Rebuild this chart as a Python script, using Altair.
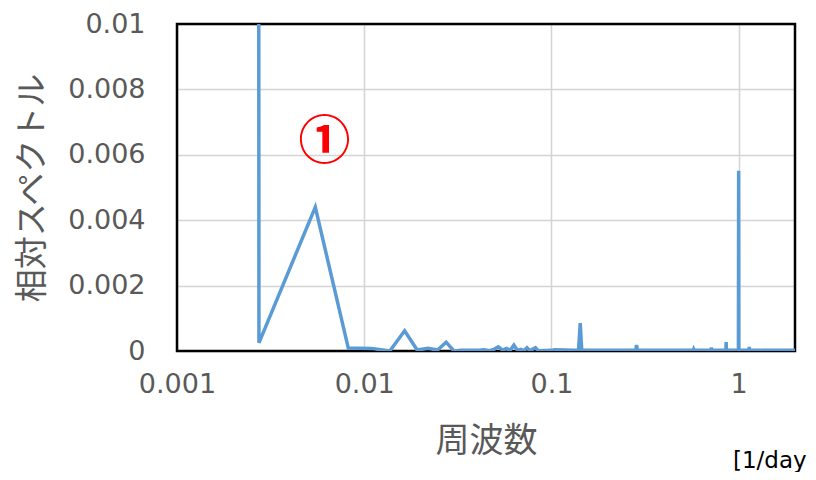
import altair as alt
import pandas as pd

# frequency [1/day] and relative spectrum values
freq = [0.00271, 0.00274, 0.00548, 0.00822, 0.01096, 0.0137, 0.01644, 0.01918,
        0.02192, 0.02466, 0.0274, 0.03014, 0.03288, 0.0411, 0.0438, 0.0466,
        0.0493, 0.05205, 0.0548, 0.0575, 0.0603, 0.0630, 0.0658, 0.0685,
        0.0712, 0.0740, 0.0767, 0.0822, 0.0849, 0.1, 0.1041, 0.137, 0.1397,
        0.1425, 0.1452, 0.2822, 0.2849, 0.2877, 0.5726, 0.5753, 0.5781,
        0.7123, 0.7151, 0.7178, 0.8548, 0.8575, 0.8603, 0.9973, 1.0, 1.0027,
        1.137, 1.1397, 1.1425, 1.2986, 1.3014, 1.3041, 2.0]
spectrum = [0.05, 0.00025, 0.0044, 0.00009, 0.00008, 0.0, 0.00062, 0.00003,
            0.00008, 0.00003, 0.00027, 0.0, 0.00002, 0.00002, 0.00004, 0.00001,
            0.00005, 0.00013, 0.00003, 0.00008, 0.00002, 0.00018, 0.00002, 0.00005,
            0.00001, 0.0001, 0.00001, 0.0001, 0.00001, 0.00002, 0.00004, 0.00002, 0.00005,
            0.00085, 0.00002, 0.00002, 0.00018, 0.00002, 0.00002, 0.00005, 0.00002,
            0.00002, 0.00011, 0.00002, 0.00002, 0.00027, 0.00002, 0.00002, 0.00551, 0.00002,
            0.00002, 0.00013, 0.00002, 0.00002, 0.00005, 0.00002, 0.00002]

x_ticks = [0.001, 0.01, 0.1, 1]
y_ticks = [0, 0.002, 0.004, 0.006, 0.008, 0.01]

note_text = ["①"]
note_x = [0.00613]
note_y = [0.00635]
unit_text = ["[1/day]"]

df = pd.DataFrame({"f": freq, "s": spectrum})
note_df = pd.DataFrame({"x": note_x, "y": note_y, "t": note_text})
unit_df = pd.DataFrame({"t": unit_text})

xscale = alt.Scale(type="log", domain=[0.001, 2], nice=False)
yscale = alt.Scale(domain=[0, 0.01], nice=False, zero=True)

GREY = "#595959"

xaxis = alt.Axis(
    values=x_ticks, format="~g", title="周波数", grid=True,
    gridColor="#d4d4d4", gridWidth=1.5, ticks=False, domain=False,
    labelFont="DejaVu Sans", labelFontSize=27, labelColor=GREY,
    labelPadding=33, labelBaseline="middle", labelFlush=False, labelOverlap=False,
    titleFont="Noto Sans CJK JP", titleFontSize=34, titleColor=GREY,
    titleFontWeight="normal", titleX=309, titleY=90, titleBaseline="middle",
    titleAlign="center",
)
yaxis = alt.Axis(
    values=y_ticks, format="~g", title="相対スペクトル", grid=True,
    gridColor="#d4d4d4", gridWidth=1.5, ticks=False, domain=False,
    labelFont="DejaVu Sans", labelFontSize=27, labelColor=GREY,
    labelPadding=32, labelFlush=False, labelOverlap=False,
    titleFont="Noto Sans CJK JP", titleFontSize=33, titleColor=GREY,
    titleFontWeight="normal", titleX=-145, titleY=163.5, titleBaseline="middle",
    titleAlign="center", titleAngle=-90,
)

line = alt.Chart(df).mark_line(color="#5B9BD5", strokeWidth=3.5, clip=True).encode(
    x=alt.X("f:Q", scale=xscale, axis=xaxis),
    y=alt.Y("s:Q", scale=yscale, axis=yaxis),
)

frame = alt.Chart(unit_df).mark_rect(
    fill=None, filled=False, stroke="black", strokeWidth=2.5,
).encode(
    x=alt.value(0), x2=alt.value(618), y=alt.value(0), y2=alt.value(327),
)

note = alt.Chart(note_df).mark_text(
    color="#FF0000", font="Noto Sans CJK JP", fontSize=52, fontWeight="bold",
    align="center", baseline="middle",
).encode(
    x=alt.X("x:Q", scale=xscale),
    y=alt.Y("y:Q", scale=yscale),
    text="t:N",
)

unit = alt.Chart(unit_df).mark_text(
    color="black", font="DejaVu Sans", fontSize=23, align="left", baseline="middle",
).encode(
    x=alt.value(556), y=alt.value(437), text="t:N",
)

chart = alt.layer(frame, line, note, unit).properties(
    width=618, height=327,
    autosize=alt.AutoSizeParams(type="none"),
    padding={"left": 169, "top": 16, "right": 13, "bottom": 121},
).configure_view(stroke=None).configure(background="white")

chart.save("out.html", embed_options={"renderer": "svg", "actions": False})
